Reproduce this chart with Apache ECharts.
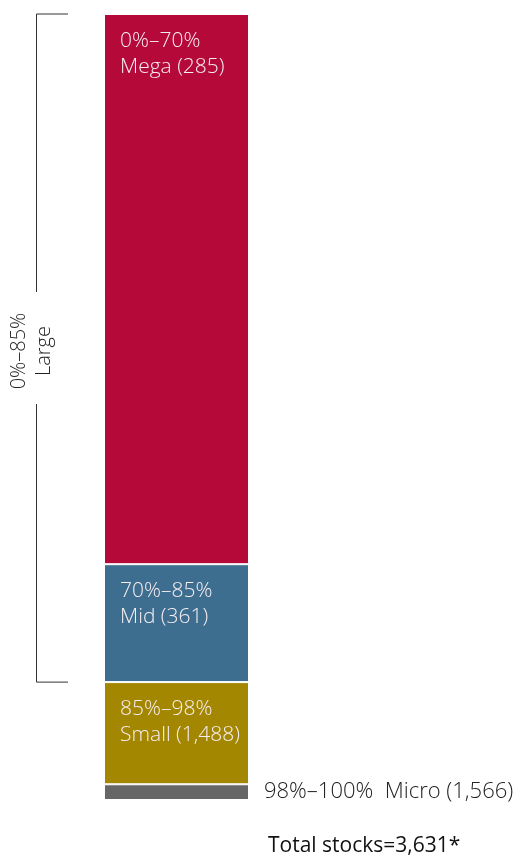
<!DOCTYPE html>
<html><head><meta charset="utf-8">
<script src="https://cdn.jsdelivr.net/npm/echarts@6/dist/echarts.min.js"></script>
<style>html,body{margin:0;padding:0;background:#fff}#c{width:520px;height:858px}</style>
</head><body><div id="c"></div>
<script>
const segments = ['Mega', 'Mid', 'Small', 'Micro'];
const ranges = ['0%–70%', '70%–85%', '85%–98%', '98%–100%'];
const shares = [70, 15, 13, 2];
const stockCounts = [285, 361, 1488, 1566];
const bracketRange = [0, 85];
const bracketLabel = ['0%–85%', 'Large'];
const totalStocks = 3631;

const colors = ['#b5093a', '#3d6e8f', '#a38700', '#666666'];
const FONT = '"Open Sans", sans-serif';
const fmt = v => v.toLocaleString('en-US');

const chart = echarts.init(document.getElementById('c'), null, {renderer: 'canvas'});
const series = segments.map((name, i) => ({
  name, type: 'bar', stack: 'total', barWidth: '100%', animation: false,
  data: [shares[i]],
  itemStyle: {color: colors[i], borderColor: '#fff', borderWidth: 1},
  label: i < 3 ? {
    show: true, position: [16, 14], align: 'left', verticalAlign: 'top',
    formatter: ranges[i] + '\n' + name + ' (' + fmt(stockCounts[i]) + ')',
    color: '#f6eef1', fontFamily: FONT, fontSize: 21, fontWeight: 300, lineHeight: 26
  } : {
    show: true, position: 'right', distance: 15,
    formatter: ranges[i] + '  ' + name + ' (' + fmt(stockCounts[i]) + ')',
    color: '#222', fontFamily: FONT, fontSize: 22, fontWeight: 300
  }
}));

chart.setOption({
  animation: false,
  grid: {left: 104, right: 271, top: 14, bottom: 58},
  xAxis: {type: 'category', data: ['All'], show: false},
  yAxis: {type: 'value', min: 0, max: 100, inverse: true, show: false},
  title: {
    text: 'Total stocks=' + fmt(totalStocks) + '*', left: 268, top: 836,
    padding: 0,
    textStyle: {fontFamily: FONT, fontSize: 21, fontWeight: 'normal', color: '#111'}
  },
  series
});

const yTop = chart.convertToPixel({yAxisIndex: 0}, bracketRange[0]);
const yBot = chart.convertToPixel({yAxisIndex: 0}, bracketRange[1]);
const yMid = (yTop + yBot) / 2;
const bx = 36.5, tickEnd = 68, gap = 56;
const ls = {stroke: '#333', lineWidth: 1};
chart.setOption({
  graphic: [
    {type: 'line', shape: {x1: bx, y1: yTop, x2: tickEnd, y2: yTop}, style: ls, silent: true},
    {type: 'line', shape: {x1: bx, y1: yTop, x2: bx, y2: yMid - gap}, style: ls, silent: true},
    {type: 'line', shape: {x1: bx, y1: yMid + gap, x2: bx, y2: yBot}, style: ls, silent: true},
    {type: 'line', shape: {x1: bx, y1: yBot, x2: tickEnd, y2: yBot}, style: ls, silent: true},
    {type: 'text', x: 32, y: yMid + 3, rotation: Math.PI / 2, silent: true,
      style: {text: bracketLabel.join('\n'), align: 'center', verticalAlign: 'middle',
        fontFamily: FONT, fontSize: 20, fontWeight: 300, lineHeight: 25, fill: '#222'}}
  ]
});
</script></body></html>
